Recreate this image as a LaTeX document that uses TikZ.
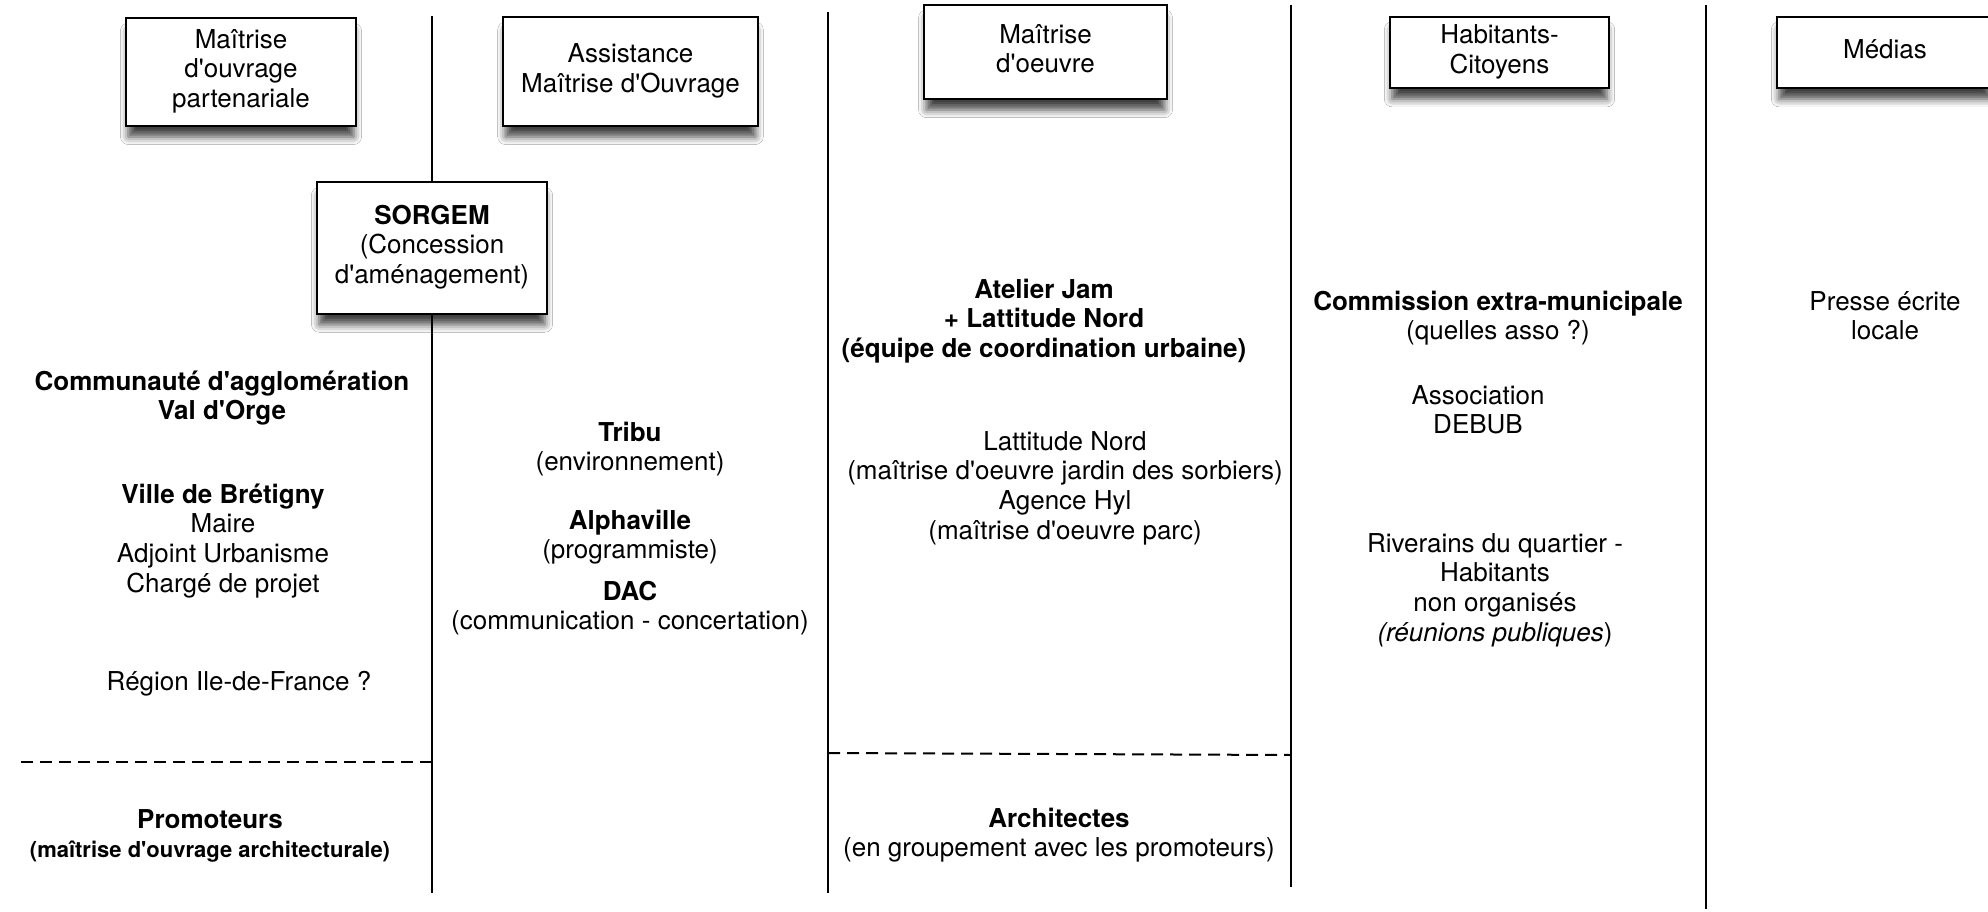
\documentclass[tikz,border=0pt]{standalone}
\usepackage{fontspec}
\setmainfont{TeX Gyre Heros}[Ligatures=TeXOff]
\usetikzlibrary{shadows.blur}
\newcommand{\ml}[1]{\begin{tabular}[t]{@{}c@{}}#1\end{tabular}}
\newcommand{\mainsize}{\fontsize{26pt}{29.7pt}\selectfont}
\newcommand{\smallsize}{\fontsize{22pt}{29.7pt}\selectfont}
\tikzset{
  hdr/.style={draw=black, line width=2.5pt, fill=white, inner sep=0pt, font=\mainsize,
    blur shadow={shadow xshift=0pt, shadow yshift=-12pt, shadow blur radius=8pt, shadow scale=0.98, shadow opacity=75}},
  lbl/.style={inner sep=0pt, anchor=base, font=\mainsize},
  sepline/.style={line width=2pt},
  dsep/.style={line width=2pt, dash pattern=on 12pt off 7pt}
}
\begin{document}
\begin{tikzpicture}[x=1pt,y=-1pt]
\useasboundingbox (0,0) rectangle (1988,912);
\fill[white] (0,0) rectangle (1988,912);
% separators
\coordinate (l1t) at (432,16);  \coordinate (l1b) at (432,893);
\coordinate (l2t) at (828,12);  \coordinate (l2b) at (828,893);
\coordinate (l3t) at (1291,5);  \coordinate (l3b) at (1291,887);
\coordinate (l4t) at (1706,5);  \coordinate (l4b) at (1706,909);
\draw[sepline] (l1t) -- (l1b);
\draw[sepline] (l2t) -- (l2b);
\draw[sepline] (l3t) -- (l3b);
\draw[sepline] (l4t) -- (l4b);
\coordinate (d1a) at (14,762);  \coordinate (d1b) at (432,762);
\coordinate (d2a) at (828,753); \coordinate (d2b) at (1291,755);
\draw[dsep] (d1b) -- (d1a);
\draw[dsep] (d2a) -- (d2b);
% header boxes
\node[hdr, minimum width=230, minimum height=108] (h1) at (241,72) {\ml{Maîtrise\\d'ouvrage\\partenariale}};
\node[hdr, minimum width=255, minimum height=109] (h2) at (630.5,71.5) {\ml{Assistance\\Maîtrise d'Ouvrage}};
\node[hdr, minimum width=243, minimum height=94] (h3) at (1045.5,52) {\ml{Maîtrise\\d'oeuvre}};
\node[hdr, minimum width=219, minimum height=71] (h4) at (1499.5,52.5) {\ml{Habitants-\\Citoyens}};
\node[hdr, minimum width=216, minimum height=71] (h5) at (1885,52.5) {\ml{Médias}};
\node[hdr, minimum width=230, minimum height=132] (sorgem) at (432,248) {\ml{\textbf{SORGEM}\\(Concession\\d'aménagement)}};
% column 1
\node[lbl] (a1) at (222,390) {\ml{\textbf{Communauté d'agglomération}\\\textbf{Val d'Orge}}};
\node[lbl] (a2) at (223,503) {\ml{\textbf{Ville de Brétigny}\\Maire\\Adjoint Urbanisme\\Chargé de projet}};
\node[lbl] (a3) at (239,690) {Région Ile-de-France ?};
\node[lbl] (a4) at (210,828) {\ml{\textbf{Promoteurs}\\{\smallsize\bfseries (maîtrise d'ouvrage architecturale)}}};
% column 2
\node[lbl] (b1) at (630,441) {\ml{\textbf{Tribu}\\(environnement)}};
\node[lbl] (b2) at (630,529) {\ml{\textbf{Alphaville}\\(programmiste)}};
\node[lbl] (b3) at (630,600) {\ml{\textbf{DAC}\\(communication - concertation)}};
% column 3
\node[lbl] (c1) at (1044,298) {\ml{\textbf{Atelier Jam}\\\textbf{+ Lattitude Nord}\\\textbf{(équipe de coordination urbaine)}}};
\node[lbl] (c2) at (1065,450) {\ml{Lattitude Nord\\(maîtrise d'oeuvre jardin des sorbiers)\\Agence Hyl\\(maîtrise d'oeuvre parc)}};
\node[lbl] (c3) at (1059,827) {\ml{\textbf{Architectes}\\(en groupement avec les promoteurs)}};
% column 4
\node[lbl] (d1) at (1498,310) {\ml{\textbf{Commission extra-municipale}\\(quelles asso ?)}};
\node[lbl] (d2) at (1478,404) {\ml{Association\\DEBUB}};
\node[lbl] (d3) at (1495,552) {\ml{Riverains du quartier -\\Habitants\\non organisés\\\textit{(réunions publiques})}};
% column 5
\node[lbl] (e1) at (1885,310) {\ml{Presse écrite\\locale}};
\end{tikzpicture}
\end{document}
